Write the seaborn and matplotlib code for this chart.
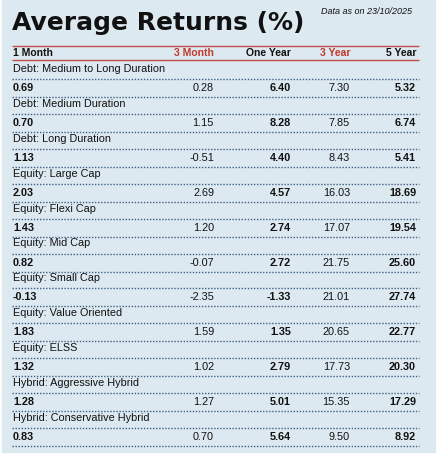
import matplotlib
matplotlib.use("Agg")
import matplotlib.pyplot as plt
import seaborn as sns

categories = ["Debt: Medium to Long Duration", "Debt: Medium Duration", "Debt: Long Duration",
              "Equity: Large Cap", "Equity: Flexi Cap", "Equity: Mid Cap", "Equity: Small Cap",
              "Equity: Value Oriented", "Equity: ELSS", "Hybrid: Aggressive Hybrid",
              "Hybrid: Conservative Hybrid"]
columns = ["1 Month", "3 Month", "One Year", "3 Year", "5 Year"]
m1 = ["0.69", "0.70", "1.13", "2.03", "1.43", "0.82", "-0.13", "1.83", "1.32", "1.28", "0.83"]
m3 = ["0.28", "1.15", "-0.51", "2.69", "1.20", "-0.07", "-2.35", "1.59", "1.02", "1.27", "0.70"]
y1 = ["6.40", "8.28", "4.40", "4.57", "2.74", "2.72", "-1.33", "1.35", "2.79", "5.01", "5.64"]
y3 = ["7.30", "7.85", "8.43", "16.03", "17.07", "21.75", "21.01", "20.65", "17.73", "15.35", "9.50"]
y5 = ["5.32", "6.74", "5.41", "18.69", "19.54", "25.60", "27.74", "22.77", "20.30", "17.29", "8.92"]

sns.set_theme(style="white")
plt.rcParams['font.family'] = ['Liberation Sans', 'DejaVu Sans']
fig = plt.figure(figsize=(4.48, 4.59), dpi=100)
ax = fig.add_axes([0, 0, 1, 1])
ax.set_xlim(0, 448); ax.set_ylim(459, 0); ax.axis("off")
ax.add_patch(plt.Rectangle((2, 0), 433, 452, color="#dde9f1", zorder=0))

ax.text(12, 23, "Average Returns (%)", fontsize=18, fontweight="heavy",
        family=["DejaVu Sans"], va="center", color="#111")
ax.text(412, 11, "Data as on 23/10/2025", fontsize=6.5, style="italic", ha="right", va="center", color="#111")

red = "#c0392b"
ax.hlines([46, 60], 12, 419, color="#c0504d", lw=1)
col_x = [13, 214, 291, 350, 416]
col_ha = ["left", "right", "right", "right", "right"]
col_c = ["#111", red, "#111", red, "#111"]
for x, h, c, t in zip(col_x, col_ha, col_c, columns):
    ax.text(x, 53, t, fontsize=7.5, fontweight="bold", ha=h, va="center", color=c)

series = [m1, m3, y1, y3, y5]
bold = [True, False, True, False, True]
pitch = 34.9
for i, cat in enumerate(categories):
    yc = 69 + i * pitch
    yv = yc + 19
    ax.text(13, yc, cat, fontsize=7.8, va="center", color="#111")
    ax.hlines([yv - 9, yv + 9], 12, 419, color="#3d5f82", lw=1.0, linestyles=(0, (1, 1.2)))
    for x, h, s, b in zip(col_x, col_ha, series, bold):
        ax.text(x, yv, s[i], fontsize=7.8, ha=h, va="center", color="#111",
                fontweight="bold" if b else "normal")

fig.savefig("out.png", dpi=100, facecolor="white")
